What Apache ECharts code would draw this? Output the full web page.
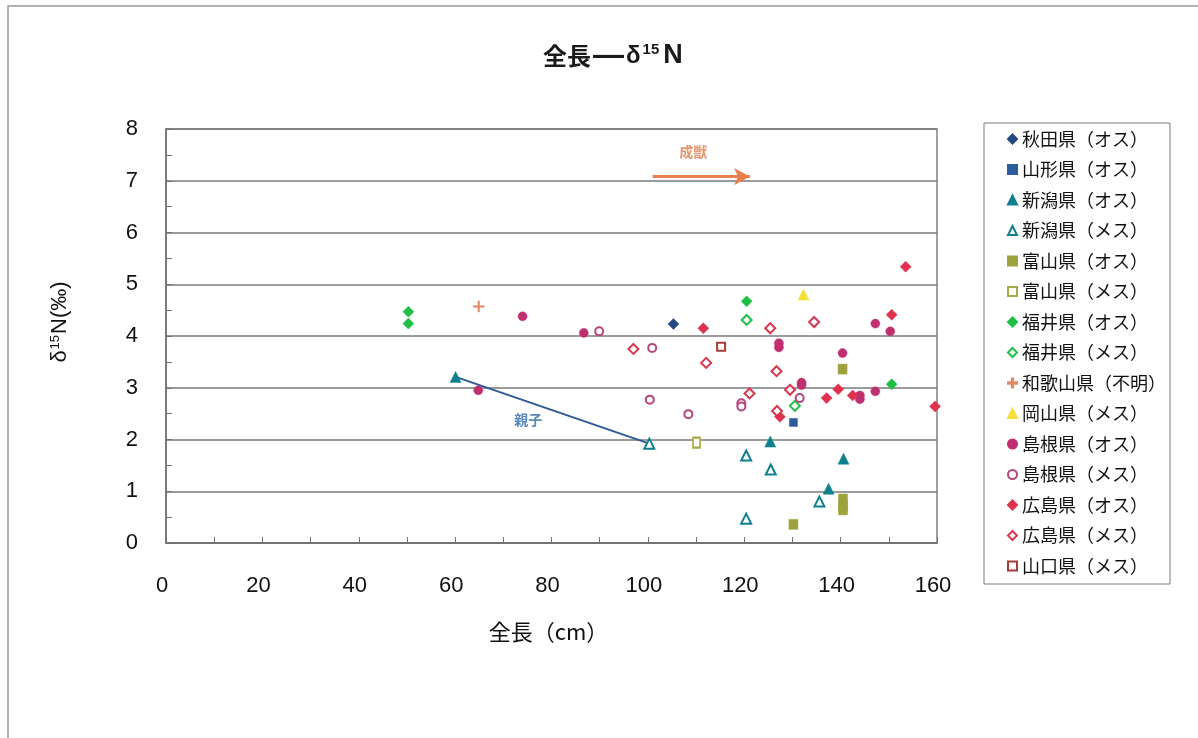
<!DOCTYPE html>
<html><head><meta charset="utf-8">
<script src="https://cdn.jsdelivr.net/npm/echarts@6/dist/echarts.min.js"></script>
<style>html,body{margin:0;padding:0;background:#fff}#c{width:1198px;height:738px}</style>
</head><body><div id="c"></div>
<script>
// Data: [全長(cm), δ15N(‰)]
const akitaM   = [[105.3, 4.23]];
const yamagataM = [[130.2, 2.33]];
const niigataM = [[60.1, 3.21], [125.4, 1.96], [140.6, 1.63], [137.5, 1.05]];
const niigataF = [[100.3, 1.92], [120.4, 1.69], [125.5, 1.42], [135.6, 0.80], [120.4, 0.47]];
const toyamaM  = [[140.4, 3.36], [140.5, 0.85], [140.5, 0.72], [140.5, 0.64], [130.2, 0.36]];
const toyamaF  = [[110.1, 1.94]];
const fukuiM   = [[50.3, 4.47], [50.3, 4.24], [120.5, 4.67], [150.6, 3.07]];
const fukuiF   = [[120.5, 4.31], [130.5, 2.65]];
const wakayamaU = [[64.9, 4.57]];
const okayamaF = [[132.3, 4.80]];
const shimaneM = [[74.0, 4.38], [86.7, 4.06], [64.8, 2.95], [147.2, 4.24], [150.3, 4.09], [127.2, 3.86], [127.2, 3.78],
                  [140.4, 3.67], [131.9, 3.10], [131.9, 3.05], [144.0, 2.85], [144.0, 2.78], [147.2, 2.93]];
const shimaneF = [[89.9, 4.09], [100.9, 3.77], [100.4, 2.77], [108.4, 2.49], [131.5, 2.80], [119.4, 2.70], [119.4, 2.64]];
const hiroshimaM = [[111.5, 4.15], [150.6, 4.41], [153.5, 5.34], [137.1, 2.80], [139.5, 2.97], [142.5, 2.85], [159.6, 2.64], [127.4, 2.44]];
const hiroshimaF = [[97.0, 3.75], [112.1, 3.48], [125.4, 4.15], [134.5, 4.27], [126.7, 3.32], [129.5, 2.96], [121.1, 2.89], [126.8, 2.55]];
const yamaguchiF = [[115.2, 3.79]];

const parentChild = [[60.1, 3.21], [100.3, 1.92]];
const adultArrow = [[101, 7.08], [121.2, 7.08]];
const notes = [{name: '親子', value: [75.2, 2.38]}, {name: '成獣', value: [109.4, 7.56]}];

const xTicks = {min: 0, max: 160, interval: 20};
const yTicks = {min: 0, max: 8, interval: 1};

const JP = '"Noto Sans CJK JP", sans-serif';
const NUM = '"Liberation Sans", Arial, sans-serif';

function filled(name, data, symbol, color, size) {
  return {name, type: 'scatter', data, symbol, symbolSize: size,
    itemStyle: {color, borderColor: color, borderWidth: 0.5, opacity: 1}, z: 3};
}
function hollow(name, data, symbol, color, size) {
  return {name, type: 'scatter', data, symbol, symbolSize: size,
    itemStyle: {color: '#ffffff', borderColor: color, borderWidth: 2, opacity: 1}, z: 3};
}
const PLUS = 'path://M0,4.3H10V5.7H0Z M4.3,0H5.7V10H4.3Z';

const series = [
  filled('秋田県（オス）', akitaM, 'diamond', '#24497f', 11),
  filled('山形県（オス）', yamagataM, 'rect', '#2b5c9c', 8),
  filled('新潟県（オス）', niigataM, 'triangle', '#10808f', 11),
  hollow('新潟県（メス）', niigataF, 'triangle', '#10808f', 10),
  filled('富山県（オス）', toyamaM, 'rect', '#9ea23c', [9, 10]),
  hollow('富山県（メス）', toyamaF, 'rect', '#a8aa48', [7, 10]),
  filled('福井県（オス）', fukuiM, 'diamond', '#1fbf45', 11),
  hollow('福井県（メス）', fukuiF, 'diamond', '#1fbf45', 10),
  filled('和歌山県（不明）', wakayamaU, PLUS, '#e08a68', 11),
  filled('岡山県（メス）', okayamaF, 'triangle', '#f5e03a', 11),
  filled('島根県（オス）', shimaneM, 'circle', '#c02f70', 9),
  hollow('島根県（メス）', shimaneF, 'circle', '#b5457a', 8),
  filled('広島県（オス）', hiroshimaM, 'diamond', '#e0314f', 11),
  hollow('広島県（メス）', hiroshimaF, 'diamond', '#d8384f', 10),
  hollow('山口県（メス）', yamaguchiF, 'rect', '#a83a3a', 8),
];
const legendNames = series.map(s => s.name);

series.push({
  name: 'parentChild', type: 'line', data: parentChild, symbol: 'none', z: 2, silent: true,
  lineStyle: {color: '#2d5a94', width: 2},
  markLine: {
    silent: true, symbol: ['none', 'arrow'], symbolSize: [13, 16],
    lineStyle: {color: '#e8804f', width: 3, type: 'solid'},
    label: {show: false},
    data: [[{coord: adultArrow[0]}, {coord: adultArrow[1]}]]
  }
});
series.push({
  name: 'notes', type: 'scatter', symbolSize: 0, silent: true, z: 4,
  label: {show: true, position: 'inside', formatter: '{b}', fontFamily: JP, fontWeight: 'bold', fontSize: 14},
  data: notes.map(n => ({...n, label: {color: n.name === '親子' ? '#2e6aa6' : '#e07a4a'}}))
});

const chart = echarts.init(document.getElementById('c'), null, {renderer: 'canvas'});
chart.setOption({
  backgroundColor: '#ffffff',
  animation: false,
  title: {
    text: '{a|全長}{d|—}{b|δ}{s|15}{n|N}',
    left: 543, top: 40, padding: 0,
    textStyle: {rich: {
      a: {fontFamily: JP, fontSize: 24, fontWeight: 'bold', color: '#1a1a1a', lineHeight: 32},
      d: {fontFamily: NUM, fontSize: 31, fontWeight: 'bold', color: '#1a1a1a', lineHeight: 32, padding: [0, 2, 0, 2]},
      b: {fontFamily: NUM, fontSize: 24, fontWeight: 'bold', color: '#1a1a1a', lineHeight: 32},
      s: {fontFamily: NUM, fontSize: 15, fontWeight: 'bold', color: '#1a1a1a', lineHeight: 32, padding: [0, 4, 12, 2]},
      n: {fontFamily: NUM, fontSize: 27, fontWeight: 'bold', color: '#1a1a1a', lineHeight: 32}
    }}
  },
  legend: {
    data: legendNames, orient: 'vertical', left: 984, top: 123,
    itemWidth: 9, itemHeight: 9, itemGap: 10.5, itemTextGap: 13,
    padding: [6, 4, 8, 23],
    borderColor: '#7a7a7a', borderWidth: 1,
    textStyle: {fontFamily: JP, fontSize: 18, color: '#111', lineHeight: 20},
    selectedMode: false
  },
  grid: {left: 166, top: 129, width: 771, height: 414, show: true, borderColor: '#808080', borderWidth: 1.5, backgroundColor: '#fff'},
  xAxis: {
    type: 'value', min: xTicks.min, max: xTicks.max, interval: xTicks.interval,
    name: '全長（cm）', nameLocation: 'middle', nameGap: 78,
    nameTextStyle: {fontFamily: JP, fontSize: 22, color: '#111', padding: [0, 6, 0, 0]},
    axisLine: {show: true, lineStyle: {color: '#707070', width: 1.5}},
    axisTick: {show: true, inside: true, length: 6, lineStyle: {color: '#707070'}},
    minorTick: {show: true, splitNumber: 2, length: 6, lineStyle: {color: '#707070'}},
    axisLabel: {fontFamily: NUM, fontSize: 22, color: '#111', margin: 32, padding: [0, 8, 0, 0]},
    splitLine: {show: false}
  },
  yAxis: {
    type: 'value', min: yTicks.min, max: yTicks.max, interval: yTicks.interval,
    axisLine: {show: true, lineStyle: {color: '#707070', width: 1.5}},
    axisTick: {show: true, inside: true, length: 6, lineStyle: {color: '#707070'}},
    minorTick: {show: true, splitNumber: 2, length: 6, lineStyle: {color: '#707070'}},
    axisLabel: {fontFamily: NUM, fontSize: 22, color: '#111', margin: 28},
    splitLine: {show: true, lineStyle: {color: '#7a7a7a', width: 1.5}}
  },
  graphic: [
    {type: 'rect', shape: {x: 8, y: 6, width: 1300, height: 900}, style: {fill: 'none', stroke: '#9a9a9a', lineWidth: 1.5}, silent: true, z: -1},
    {type: 'text', x: 60, y: 322, rotation: Math.PI / 2, silent: true,
      style: {text: '{a|δ}{s|15}{a|N(‰)}', align: 'center', verticalAlign: 'middle',
        rich: {
          a: {fontFamily: NUM, fontSize: 22, fill: '#111', lineHeight: 26},
          s: {fontFamily: NUM, fontSize: 13, fill: '#111', lineHeight: 26, padding: [0, 1, 10, 1]}
        }}}
  ],
  series
});
</script></body></html>
